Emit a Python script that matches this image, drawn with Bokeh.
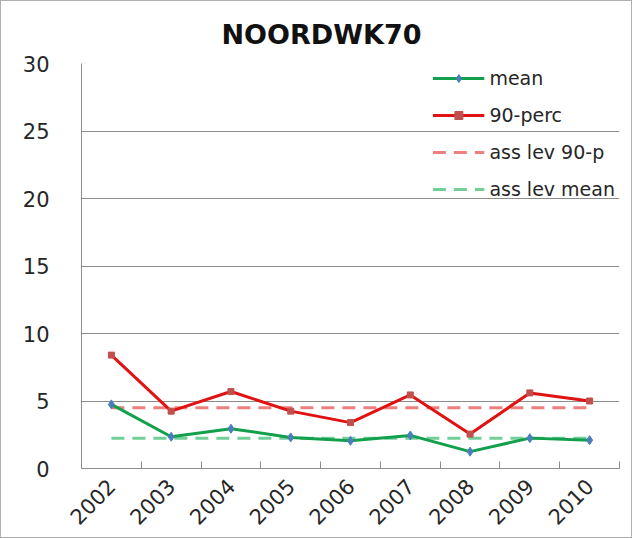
import numpy as np
from math import pi
from bokeh.plotting import figure
from bokeh.models import FixedTicker, Range1d
from bokeh.embed import file_html
from bokeh.resources import INLINE

# ---- data ----
years = ["2002", "2003", "2004", "2005", "2006", "2007", "2008", "2009", "2010"]
mean_vals = [4.75, 2.35, 2.95, 2.3, 2.05, 2.45, 1.25, 2.25, 2.1]
perc90_vals = [8.4, 4.25, 5.7, 4.25, 3.4, 5.45, 2.55, 5.6, 5.0]
ass_lev_90p = 4.5
ass_lev_mean = 2.25
y_ticks = [0, 5, 10, 15, 20, 25, 30]

FONT = "DejaVu Sans"
TXT = "#262626"
GRAY = "#8c8c8c"

xs = [i + 0.5 for i in range(len(years))]

p = figure(width=632, height=538, output_backend="svg", toolbar_location=None,
           x_range=Range1d(0, len(years)), y_range=Range1d(y_ticks[0], y_ticks[-1]),
           min_border_left=80, min_border_right=14, min_border_top=62, min_border_bottom=71)
p.styles = {"border": "1px solid #b0b0b0", "box-sizing": "border-box"}

p.title.text = "NOORDWK70"
p.title.text_font = FONT
p.title.text_font_size = "27px"
p.title.text_font_style = "bold"
p.title.text_color = "#111111"
p.title.align = "left"
p.title.offset = 140
p.title.standoff = 28

p.outline_line_color = None
p.xgrid.visible = False
p.ygrid.ticker = FixedTicker(ticks=y_ticks)
p.ygrid.grid_line_color = GRAY
p.ygrid.grid_line_width = 1

# y axis
p.yaxis.ticker = FixedTicker(ticks=y_ticks)
p.yaxis.axis_line_color = GRAY
p.yaxis.major_tick_out = 0
p.yaxis.major_tick_in = 0
p.yaxis.minor_tick_out = 0
p.yaxis.minor_tick_in = 0
p.yaxis.major_label_standoff = 32
p.yaxis.major_label_text_font = FONT
p.yaxis.major_label_text_font_size = "21px"
p.yaxis.major_label_text_color = TXT

# x axis
p.xaxis.ticker = FixedTicker(ticks=xs, minor_ticks=list(range(0, len(years) + 1)))
p.xaxis.major_label_overrides = {x: y for x, y in zip(xs, years)}
p.xaxis.axis_line_color = GRAY
p.xaxis.major_tick_in = 0
p.xaxis.major_tick_out = 0
p.xaxis.minor_tick_in = 7
p.xaxis.minor_tick_out = 0
p.xaxis.minor_tick_line_color = GRAY
p.xaxis.major_label_orientation = pi / 4
p.xaxis.major_label_standoff = 14
p.xaxis.major_label_text_font = FONT
p.xaxis.major_label_text_font_size = "21px"
p.xaxis.major_label_text_color = TXT

# assessment levels (dashed)
p.line([xs[0], xs[-1]], [ass_lev_90p, ass_lev_90p], line_color="#ee7f7f", line_width=3,
       line_dash="13 8", legend_label="ass lev 90-p")
p.line([xs[0], xs[-1]], [ass_lev_mean, ass_lev_mean], line_color="#72cf98", line_width=3,
       line_dash="13 8", legend_label="ass lev mean")

# series
p.line(xs, mean_vals, line_color="#13a04c", line_width=3, legend_label="mean")
p.scatter(xs, mean_vals, marker="diamond", size=9, fill_color="#4a7ebb", line_color="#4a7ebb",
          legend_label="mean")
p.line(xs, perc90_vals, line_color="#e01212", line_width=3, legend_label="90-perc")
p.scatter(xs, perc90_vals, marker="square", size=6, fill_color="#c0504d", line_color="#c0504d",
          legend_label="90-perc")

leg = p.legend[0]
order = ["mean", "90-perc", "ass lev 90-p", "ass lev mean"]
leg.items = sorted(leg.items, key=lambda it: order.index(it.label.value))
leg.location = "top_right"
leg.margin = 0
leg.padding = 4
leg.spacing = 15
leg.glyph_width = 52
leg.glyph_height = 20
leg.label_height = 20
leg.label_standoff = 5
leg.label_text_font = FONT
leg.label_text_font_size = "19px"
leg.label_text_color = TXT
leg.background_fill_alpha = 0
leg.border_line_alpha = 0

open("out.html", "w").write(file_html(p, INLINE))
